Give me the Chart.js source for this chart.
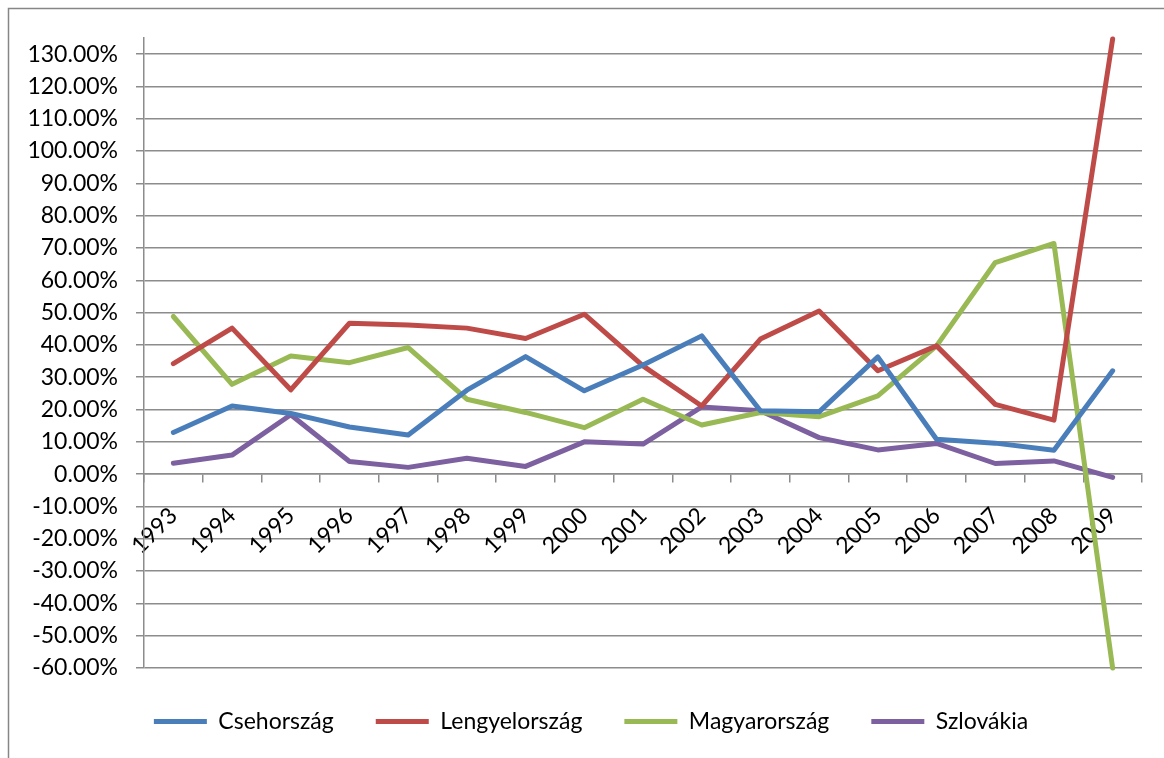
<!DOCTYPE html>
<html>
<head>
<meta charset="utf-8">
<script src="https://cdn.jsdelivr.net/npm/chart.js@4"></script>
<style>
  html, body { margin: 0; padding: 0; background: #fff; }
  #wrap { width: 1164px; height: 758px; }
</style>
</head>
<body>
<div id="wrap"><canvas id="lineChart" width="1164" height="758"></canvas></div>
<script>
// Chart data (percent values)
const years = ['1993', '1994', '1995', '1996', '1997', '1998', '1999', '2000', '2001',
               '2002', '2003', '2004', '2005', '2006', '2007', '2008', '2009'];

const csehorszag     = [12.9, 21.1, 18.8, 14.6, 12.1, 26.0, 36.4, 25.8, 33.8, 42.8, 19.6, 19.3, 36.3, 10.8, 9.6, 7.4, 32.0];
const lengyelorszag  = [34.2, 45.2, 26.1, 46.7, 46.2, 45.2, 42.0, 49.5, 33.5, 21.1, 41.8, 50.5, 32.0, 39.7, 21.6, 16.7, 134.7];
const magyarorszag   = [48.8, 27.8, 36.6, 34.5, 39.2, 23.2, 19.1, 14.4, 23.2, 15.2, 19.1, 17.8, 24.2, 39.7, 65.5, 71.4, -60.0];
const szlovakia      = [3.4, 5.9, 18.4, 3.9, 2.1, 4.9, 2.4, 10.0, 9.3, 20.8, 19.6, 11.3, 7.5, 9.5, 3.3, 4.1, -1.0];

const yTicks = [-60, -50, -40, -30, -20, -10, 0, 10, 20, 30, 40, 50, 60, 70, 80, 90, 100, 110, 120, 130];

const seriesColors = ['#4a7ebb', '#be4b48', '#98b954', '#7d60a0'];
const gridGrey = '#8c8c8c';
const fontFamily = "Lato, 'Open Sans', sans-serif";

// white background + outer frame like the Excel chart area
const framePlugin = {
    id: 'frame',
    beforeDraw(chart) {
        const ctx = chart.ctx;
        ctx.save();
        ctx.fillStyle = '#fff';
        ctx.fillRect(0, 0, chart.width, chart.height);
        ctx.strokeStyle = '#868686';
        ctx.lineWidth = 1.5;
        ctx.strokeRect(8.5, 8.5, chart.width + 20, chart.height + 20);
        ctx.restore();
    }
};

function makeDataset(label, data, color) {
    return {
        label: label,
        data: data,
        borderColor: color,
        backgroundColor: color,
        borderWidth: 5,
        borderCapStyle: 'round',
        borderJoinStyle: 'round',
        pointRadius: 0,
        pointHoverRadius: 0,
        tension: 0,
        clip: false
    };
}

const ctx = document.getElementById('lineChart').getContext('2d');

new Chart(ctx, {
    type: 'line',
    data: {
        labels: years,
        datasets: [
            makeDataset('Csehország', csehorszag, seriesColors[0]),
            makeDataset('Lengyelország', lengyelorszag, seriesColors[1]),
            makeDataset('Magyarország', magyarorszag, seriesColors[2]),
            makeDataset('Szlovákia', szlovakia, seriesColors[3])
        ]
    },
    options: {
        responsive: false,
        animation: false,
        devicePixelRatio: 1,
        layout: {
            padding: { left: 18, top: 38, right: 0, bottom: 15 }
        },
        scales: {
            x: {
                type: 'category',
                position: { y: 0 },
                offset: true,
                grid: {
                    offset: true,
                    drawOnChartArea: false,
                    drawTicks: true,
                    tickLength: 8,
                    color: gridGrey,
                    lineWidth: 1.5
                },
                border: { display: true, color: gridGrey, width: 1.5 },
                ticks: {
                    autoSkip: false,
                    minRotation: 45,
                    maxRotation: 45,
                    padding: 20,
                    color: '#000',
                    font: { family: fontFamily, size: 23 }
                }
            },
            y: {
                min: -60,
                max: 135,
                afterFit(scale) { scale.width = 126; },
                afterBuildTicks(scale) {
                    scale.ticks = yTicks.map(v => ({ value: v }));
                },
                grid: {
                    color: gridGrey,
                    lineWidth: 1.5,
                    tickLength: 8
                },
                border: { display: true, color: gridGrey, width: 1.5 },
                ticks: {
                    padding: 18,
                    color: '#000',
                    font: { family: fontFamily, size: 23 },
                    callback: function(value) {
                        return value.toFixed(2) + '%';
                    }
                }
            },
            // empty right-hand margin so the legend centres like the original
            rightMargin: {
                type: 'linear',
                position: 'right',
                afterFit(scale) { scale.width = 22; },
                grid: { drawOnChartArea: false, drawTicks: false },
                border: { display: false },
                ticks: { display: false }
            }
        },
        plugins: {
            legend: {
                position: 'bottom',
                labels: {
                    usePointStyle: true,
                    pointStyle: 'line',
                    pointStyleWidth: 53,
                    padding: 42,
                    color: '#000',
                    font: { family: fontFamily, size: 23 }
                }
            },
            tooltip: { enabled: false }
        }
    },
    plugins: [framePlugin]
});
</script>
</body>
</html>
